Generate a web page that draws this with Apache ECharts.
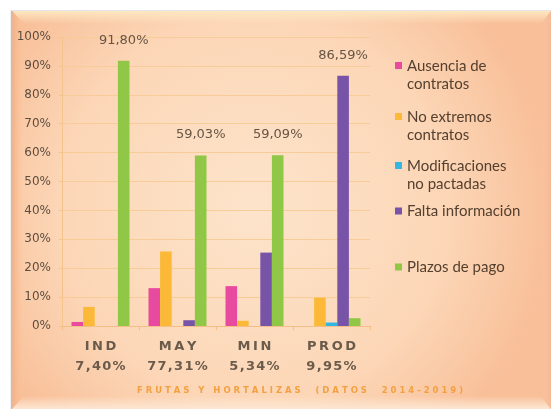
<!DOCTYPE html>
<html>
<head>
<meta charset="utf-8">
<style>
  html, body { margin: 0; padding: 0; background: #ffffff; }
  #chart { width: 551px; height: 409px; }
</style>
<script src="https://cdn.jsdelivr.net/npm/echarts@6/dist/echarts.min.js"></script>
</head>
<body>
<div id="chart"></div>
<script>
// ---- data ----
const categories = ['IND', 'MAY', 'MIN', 'PROD'];
const shares = ['7,40%', '77,31%', '5,34%', '9,95%'];
const seriesNames = ['Ausencia de contratos', 'No extremos contratos', 'Modificaciones no pactadas', 'Falta información', 'Plazos de pago'];
const legendLabels = ['Ausencia de\ncontratos', 'No extremos\ncontratos', 'Modificaciones\nno pactadas', 'Falta información', 'Plazos de pago'];
const ausencia = [1.4, 13.1, 13.8, 0];
const noExtremos = [6.6, 25.8, 1.8, 9.8];
const modificaciones = [0, 0, 0, 1.2];
const falta = [0, 2.0, 25.4, 86.59];
const plazos = [91.80, 59.03, 59.09, 2.7];
const yTickValues = [0, 10, 20, 30, 40, 50, 60, 70, 80, 90, 100];
const labelledPoints = [[4, 0], [4, 1], [4, 2], [3, 3]]; // [series index, category index]
const footTitle = 'FRUTAS Y HORTALIZAS  (DATOS  2014-2019)';

// ---- styles ----
const colors = ['#e84a9f', '#fcb938', '#33b6e2', '#7754a8', '#90c746'];
const legendTops = [57, 108, 157, 202, 258];
const allValues = [ausencia, noExtremos, modificaciones, falta, plazos];

function spaced(s, sep) { return s.split('').join(sep); }
function pct(v) { return v.toFixed(2).replace('.', ',') + '%'; }

const series = seriesNames.map((name, si) => ({
  name: name,
  type: 'bar',
  barWidth: 11.6,
  barGap: '0%',
  itemStyle: { color: colors[si] },
  z: 5,
  data: allValues[si].map((v, ci) => {
    const show = labelledPoints.some(p => p[0] === si && p[1] === ci);
    return {
      value: v,
      label: {
        show: show,
        position: 'top',
        distance: 14,
        formatter: (p) => pct(p.value),
        fontFamily: 'DejaVu Sans',
        fontSize: 13,
        color: '#665444'
      }
    };
  })
}));

const legends = seriesNames.map((name, i) => {
  const twoLine = legendLabels[i].indexOf('\n') >= 0;
  return {
    data: [{ name: name, icon: twoLine ? 'path://M0,0H7V7H0Z M0,26H7V26.01H0Z' : 'rect' }],
    left: 395,
    top: legendTops[i],
    padding: 0,
    itemWidth: 7,
    itemHeight: twoLine ? 26 : 7,
    itemGap: 6,
    selectedMode: false,
    formatter: () => legendLabels[i],
    textStyle: { fontFamily: 'Lato', fontSize: 15, color: '#55402f', lineHeight: 18 }
  };
});

const chart = echarts.init(document.getElementById('chart'), null, { renderer: 'canvas' });
chart.setOption({
  backgroundColor: '#ffffff',
  animation: false,
  graphic: { elements: [
    { type: 'rect', z: -20, shape: { x: 11, y: 10, width: 540, height: 399 },
      style: { fill: new echarts.graphic.RadialGradient(0.45, 0.5, 0.75, [
        { offset: 0, color: '#fde4cb' }, { offset: 0.65, color: '#fcd6b6' }, { offset: 1, color: '#f8bf98' }]) } },
    { type: 'polygon', z: -19, shape: { points: [[12, 11], [551, 11], [541, 24], [24, 24]] },
      style: { fill: new echarts.graphic.LinearGradient(0, 0, 0, 1, [
        { offset: 0, color: '#fde8c0' }, { offset: 1, color: 'rgba(253,228,196,0)' }]) } },
    { type: 'polygon', z: -19, shape: { points: [[12, 11], [24, 24], [24, 396], [12, 409]] },
      style: { fill: new echarts.graphic.LinearGradient(0, 0, 1, 0, [
        { offset: 0, color: '#f7ae80' }, { offset: 1, color: 'rgba(250,200,160,0)' }]) } },
    { type: 'polygon', z: -19, shape: { points: [[12, 409], [24, 396], [541, 396], [551, 409]] },
      style: { fill: new echarts.graphic.LinearGradient(0, 1, 0, 0, [
        { offset: 0, color: '#fde6d2' }, { offset: 1, color: 'rgba(253,235,217,0)' }]) } },
    { type: 'polygon', z: -19, shape: { points: [[551, 11], [541, 24], [541, 396], [551, 409]] },
      style: { fill: new echarts.graphic.LinearGradient(1, 0, 0, 0, [
        { offset: 0, color: '#f5b896' }, { offset: 1, color: 'rgba(248,200,165,0)' }]) } },
    { type: 'line', z: -18, shape: { x1: 11.5, y1: 10, x2: 11.5, y2: 409 }, style: { stroke: '#b8c3d6', lineWidth: 1.5 } },
    { type: 'line', z: -18, shape: { x1: 11, y1: 10.5, x2: 551, y2: 10.5 }, style: { stroke: '#e2e4ea', lineWidth: 1 } }
  ] },
  title: {
    text: spaced(footTitle, ' '),
    left: 300,
    textAlign: 'center',
    top: 386,
    padding: 0,
    textStyle: { fontFamily: 'DejaVu Sans', fontWeight: 'bold', fontSize: 8.5, color: '#f4a040' }
  },
  legend: legends,
  grid: { left: 62, right: 181, top: 37, bottom: 83, containLabel: false },
  xAxis: {
    type: 'category',
    data: categories,
    axisLine: { show: true, lineStyle: { color: '#f4bf86', width: 1 } },
    axisTick: { show: true, length: 4, lineStyle: { color: '#f4bf86' } },
    axisLabel: {
      interval: 0,
      margin: 11,
      formatter: (v, i) => spaced(v, '\u2009') + '\n' + spaced(shares[i], '\u200A'),
      fontFamily: 'DejaVu Sans',
      fontWeight: 'bold',
      fontSize: 13,
      lineHeight: 20,
      color: '#6b5b4b'
    }
  },
  yAxis: {
    type: 'value',
    min: yTickValues[0],
    max: yTickValues[yTickValues.length - 1],
    interval: yTickValues[1] - yTickValues[0],
    axisLine: { show: true, lineStyle: { color: '#f4c48c', width: 1 } },
    axisTick: { show: true, length: 3, lineStyle: { color: '#f4c48c' } },
    splitLine: { show: true, lineStyle: { color: '#f8cc98', width: 1 } },
    axisLabel: {
      margin: 11,
      formatter: '{value}%',
      fontFamily: 'DejaVu Sans',
      fontSize: 12,
      color: '#5e4d3f'
    }
  },
  series: series
});
</script>
</body>
</html>
